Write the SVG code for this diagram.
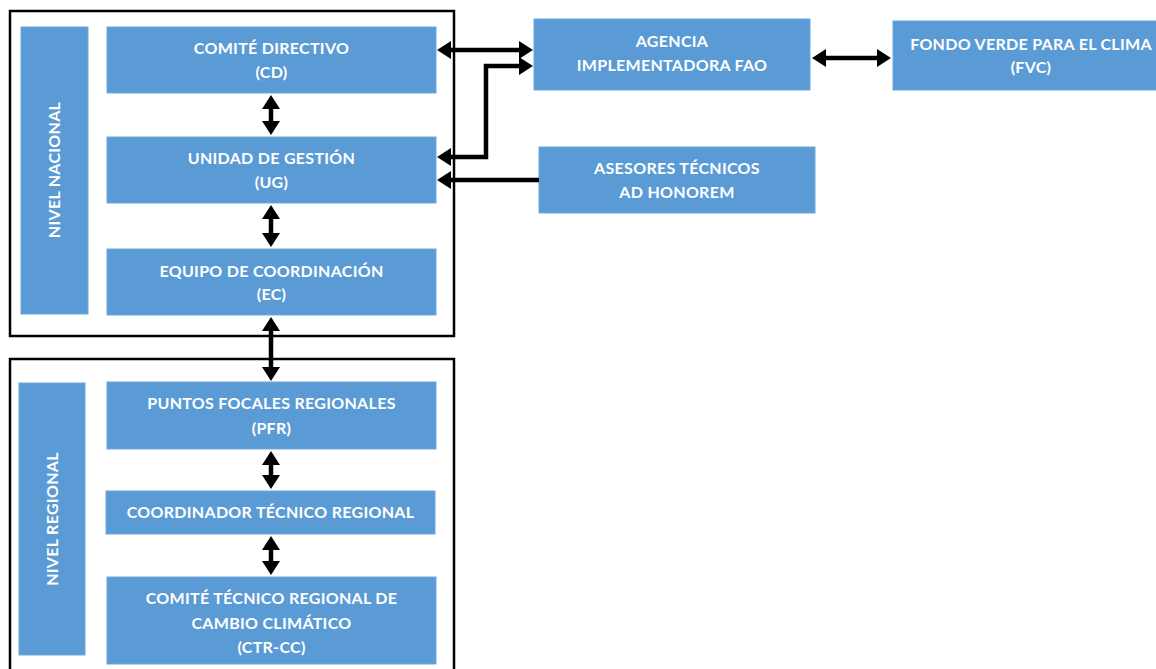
<svg xmlns="http://www.w3.org/2000/svg" width="1156" height="669" viewBox="0 0 1156 669">
<style>
.box{fill:#5B9BD5;stroke:#6FA8DC;stroke-width:1}
.frame{fill:none;stroke:#000;stroke-width:2.5}
.t{font-family:Lato,"Liberation Sans",sans-serif;font-weight:bold;font-size:16px;letter-spacing:0.3px;fill:#fff;text-anchor:middle}
.c{fill:none;stroke:#000;stroke-width:4.5}
</style>
<defs>
<marker id="ah" markerUnits="userSpaceOnUse" markerWidth="14" markerHeight="18" refX="4" refY="9" orient="auto-start-reverse" viewBox="0 0 14 18">
<path d="M0,0 L14,9 L0,18 z" fill="#000"/>
</marker>
</defs>
<rect width="1156" height="669" fill="#fff"/>
<g id="frame-nacional"><rect class="frame" x="10" y="11" width="444" height="325"/></g>
<g id="frame-regional"><rect class="frame" x="10" y="359" width="444" height="330"/></g>
<g id="nivel-nacional"><rect class="box" x="21" y="27" width="67" height="287"/><text class="t" transform="translate(60,170) rotate(-90)">NIVEL NACIONAL</text></g>
<g id="nivel-regional"><rect class="box" x="19" y="383" width="66" height="272"/><text class="t" transform="translate(58,519) rotate(-90)">NIVEL REGIONAL</text></g>
<g id="cd"><rect class="box" x="107" y="27" width="329" height="66"/><text class="t" x="271.5" y="54">COMITÉ DIRECTIVO</text><text class="t" x="271.5" y="78">(CD)</text></g>
<g id="ug"><rect class="box" x="107" y="137" width="329" height="66"/><text class="t" x="271.5" y="164">UNIDAD DE GESTIÓN</text><text class="t" x="271.5" y="188">(UG)</text></g>
<g id="ec"><rect class="box" x="107" y="249" width="329" height="66"/><text class="t" x="271.5" y="277">EQUIPO DE COORDINACIÓN</text><text class="t" x="271.5" y="300">(EC)</text></g>
<g id="pfr"><rect class="box" x="107" y="382" width="329" height="67"/><text class="t" x="271.5" y="409">PUNTOS FOCALES REGIONALES</text><text class="t" x="271.5" y="434">(PFR)</text></g>
<g id="ctr"><rect class="box" x="106" y="491" width="329" height="43"/><text class="t" x="270.5" y="518">COORDINADOR TÉCNICO REGIONAL</text></g>
<g id="ctrcc"><rect class="box" x="107" y="577" width="329" height="87"/><text class="t" x="271.5" y="604">COMITÉ TÉCNICO REGIONAL DE</text><text class="t" x="271.5" y="629">CAMBIO CLIMÁTICO</text><text class="t" x="271.5" y="653">(CTR-CC)</text></g>
<g id="agencia"><rect class="box" x="534" y="19" width="276" height="71"/><text class="t" x="672" y="47">AGENCIA</text><text class="t" x="672" y="71">IMPLEMENTADORA FAO</text></g>
<g id="fvc"><rect class="box" x="893" y="21" width="280" height="69"/><text class="t" x="1031" y="50">FONDO VERDE PARA EL CLIMA</text><text class="t" x="1031" y="73">(FVC)</text></g>
<g id="asesores"><rect class="box" x="539" y="147" width="276" height="66"/><text class="t" x="677" y="174">ASESORES TÉCNICOS</text><text class="t" x="677" y="198">AD HONOREM</text></g>
<g id="connectors">
<path class="c" d="M271,105 L271,125" marker-start="url(#ah)" marker-end="url(#ah)"/>
<path class="c" d="M271,215 L271,237" marker-start="url(#ah)" marker-end="url(#ah)"/>
<path class="c" d="M271,327 L271,371" marker-start="url(#ah)" marker-end="url(#ah)"/>
<path class="c" d="M271,461 L271,479" marker-start="url(#ah)" marker-end="url(#ah)"/>
<path class="c" d="M271,546 L271,565" marker-start="url(#ah)" marker-end="url(#ah)"/>
<path class="c" d="M447,50 L523,50" marker-start="url(#ah)" marker-end="url(#ah)"/>
<path class="c" d="M523,66 L486,66 L486,157 L447,157" marker-start="url(#ah)" marker-end="url(#ah)"/>
<path class="c" d="M539,180 L447,180" marker-end="url(#ah)"/>
<path class="c" d="M822,58 L881,58" marker-start="url(#ah)" marker-end="url(#ah)"/>
</g>
</svg>
